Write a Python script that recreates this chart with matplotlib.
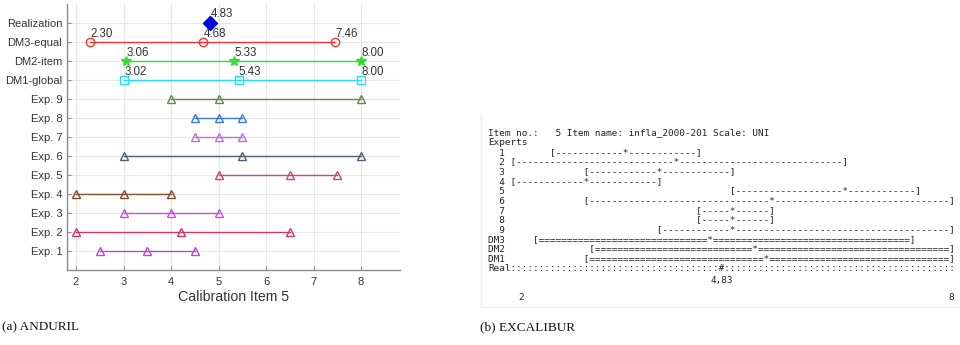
import matplotlib.pyplot as plt

# ---- data: left panel (ANDURIL) ----
row_labels = ['Exp. 1', 'Exp. 2', 'Exp. 3', 'Exp. 4', 'Exp. 5', 'Exp. 6',
              'Exp. 7', 'Exp. 8', 'Exp. 9', 'DM1-global', 'DM2-item',
              'DM3-equal', 'Realization']
expert_q = [[2.5, 3.5, 4.5],
            [2.0, 4.2, 6.5],
            [3.0, 4.0, 5.0],
            [2.0, 3.0, 4.0],
            [5.0, 6.5, 7.5],
            [3.0, 5.5, 8.0],
            [4.5, 5.0, 5.5],
            [4.5, 5.0, 5.5],
            [4.0, 5.0, 8.0]]
expert_colors = ['#c444cc', '#d5336b', '#c94fdd', '#8a4a2c', '#c8447f',
                 '#4b5e78', '#c06fd2', '#3b7ac9', '#5f8a4b']
dm_names = ['DM1', 'DM2', 'DM3']
dm_q = [[3.02, 5.43, 8.00],
        [3.06, 5.33, 8.00],
        [2.30, 4.68, 7.46]]
dm_colors = ['#22e0f0', '#33dd33', '#ee3333']
dm_markers = ['s', '*', 'o']
realization = 4.83
x_ticks = [2, 3, 4, 5, 6, 7, 8]

# ---- data: right panel (EXCALIBUR text output) ----
item_header = 'Item no.:   5 Item name: infla_2000-201 Scale: UNI'
scale_lo, scale_hi = 2, 8

plt.rcParams['font.family'] = ['Liberation Sans', 'DejaVu Sans']
fig = plt.figure(figsize=(9.6, 3.45), dpi=100)

ax = fig.add_axes([67 / 960, 1 - 270 / 345, 333 / 960, 266 / 345])
rows = list(range(1, len(row_labels) + 1))

for i, (q, c) in enumerate(zip(expert_q, expert_colors)):
    y = rows[i]
    ax.plot(q, [y] * 3, color=c, lw=1.0, marker='^', ms=6,
            mfc='none', mec=c, mew=1.0, zorder=3)

for j, (q, c, m) in enumerate(zip(dm_q, dm_colors, dm_markers)):
    y = rows[9 + j]
    ms = 7 if m == '*' else 6
    ax.plot(q, [y] * 3, color=c, lw=1.0, marker=m, ms=ms,
            mfc='none' if m != '*' else c, mec=c, mew=1.0, zorder=3)
    for v in q:
        ax.annotate('%.2f' % v, (v, y), xytext=(0, 1.5),
                    textcoords='offset points', ha='left', va='bottom',
                    fontsize=8.3, color='#333333')

ax.plot([realization], [rows[-1]], marker='D', ms=7, color='#0000dd',
        zorder=4)
ax.annotate('%.2f' % realization, (realization, rows[-1]), xytext=(0, 2.5),
            textcoords='offset points', ha='left', va='bottom',
            fontsize=8.3, color='#333333')

ax.set_xlim(1.81, 8.82)
ax.set_ylim(0, 14)
ax.set_xticks(x_ticks)
ax.set_yticks(rows)
ax.set_yticklabels(row_labels)
ax.grid(True, color='#e6e6e6', lw=0.8)
ax.set_axisbelow(True)
for s in ['top', 'right']:
    ax.spines[s].set_visible(False)
for s in ['left', 'bottom']:
    ax.spines[s].set_color('#8a8a8a')
    ax.spines[s].set_linewidth(1.0)
ax.tick_params(direction='in', length=3, color='#8a8a8a',
               labelsize=8, labelcolor='#333333')
ax.tick_params(axis='y', pad=3.5)
ax.tick_params(axis='x', pad=5)
ax.set_xlabel('Calibration Item 5', fontsize=10.2, color='#333333',
              labelpad=2)

# ---- right panel: text output built from the same values ----
ov = fig.add_axes([0, 0, 1, 1])
ov.set_xlim(0, 960)
ov.set_ylim(345, 0)
ov.axis('off')
ov.patch.set_alpha(0)

def col(v):
    return 4 + int((v - scale_lo) * 13 + 0.5)

width = col(scale_hi) + 1

def bar_line(label, q, fill):
    chars = [' '] * width
    for k, ch in enumerate(label):
        chars[k] = ch
    a, m, b = col(q[0]), col(q[1]), col(q[2])
    for k in range(a, b + 1):
        chars[k] = fill
    chars[a] = '['
    chars[b] = ']'
    chars[m] = '*'
    return ''.join(chars).rstrip()

lines = [item_header, 'Experts']
for i, q in enumerate(expert_q):
    lines.append(bar_line('%3d' % (i + 1), q, '-'))
for name, q in zip(dm_names[::-1], dm_q[::-1]):
    lines.append(bar_line(name, q, '='))
real_chars = list('Real' + ':' * (width - 4))
real_chars[col(realization)] = '#'
lines.append(''.join(real_chars))

mono = 6.75
char_w = 0.602 * mono * 100 / 72
x0 = 488
for i, s in enumerate(lines):
    ov.text(x0, 133 + 9.65 * i, s, family='DejaVu Sans Mono', fontsize=mono,
            va='center', ha='left', color='#222222')
ov.text(x0 + col(realization) * char_w + char_w / 2, 280,
        ('%.2f' % realization).replace('.', ','), family='DejaVu Sans Mono',
        fontsize=mono, va='center', ha='center', color='#222222')
ov.text(521, 297, str(scale_lo), family='DejaVu Sans Mono', fontsize=mono,
        va='center', ha='center', color='#222222')
ov.text(951, 297, str(scale_hi), family='DejaVu Sans Mono', fontsize=mono,
        va='center', ha='center', color='#222222')
ov.plot([480.5, 480.5], [115, 307], color='#eeeeee', lw=1)
ov.plot([480.5, 960], [307, 307], color='#eeeeee', lw=1)

# ---- captions ----
ov.text(2, 327, '(a) ANDURIL', family='Liberation Serif', fontsize=9.5,
        va='center', ha='left', color='#111111')
ov.text(480, 327, '(b) EXCALIBUR', family='Liberation Serif', fontsize=9.5,
        va='center', ha='left', color='#111111')

fig.savefig('out.png', dpi=100)
